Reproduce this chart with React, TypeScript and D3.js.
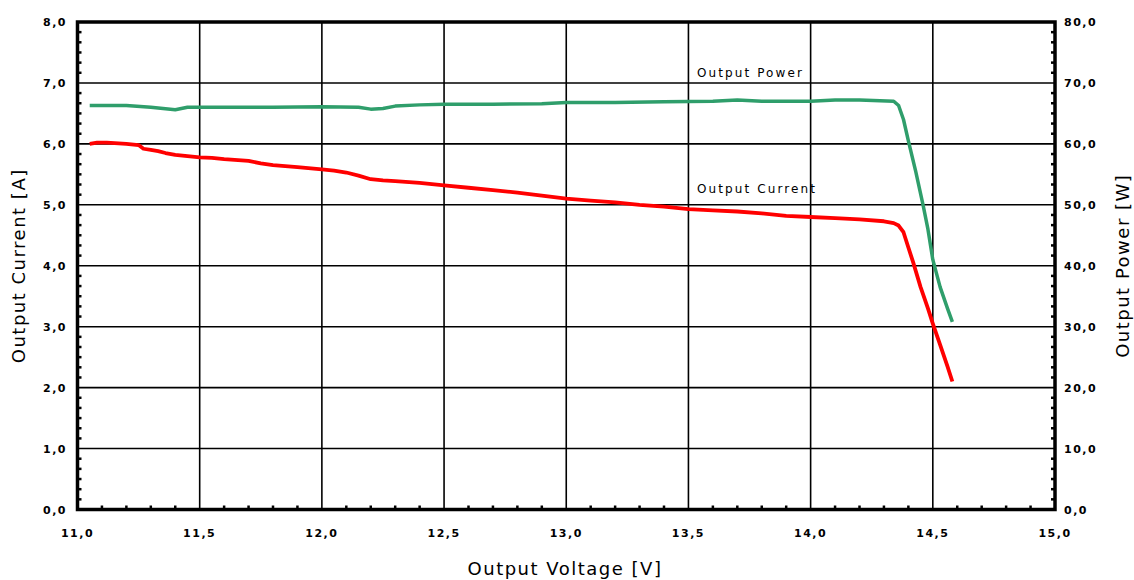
import React from "react";
import * as d3 from "d3";

const voltageI = [11.05, 11.08, 11.12, 11.2, 11.25, 11.27, 11.3, 11.33, 11.36, 11.4, 11.45, 11.5, 11.55, 11.6, 11.7, 11.75, 11.8, 11.9, 12.0, 12.05, 12.1, 12.15, 12.2, 12.25, 12.3, 12.4, 12.5, 12.6, 12.7, 12.8, 12.9, 13.0, 13.1, 13.2, 13.3, 13.4, 13.5, 13.6, 13.7, 13.8, 13.9, 14.0, 14.1, 14.2, 14.3, 14.34, 14.36, 14.38, 14.4, 14.42, 14.45, 14.48, 14.5, 14.53, 14.56, 14.58];
const currentA = [6.0, 6.02, 6.02, 6.0, 5.98, 5.92, 5.9, 5.88, 5.85, 5.82, 5.8, 5.78, 5.77, 5.75, 5.72, 5.68, 5.65, 5.62, 5.58, 5.56, 5.53, 5.48, 5.42, 5.4, 5.39, 5.36, 5.32, 5.28, 5.24, 5.2, 5.15, 5.1, 5.07, 5.04, 5.0, 4.97, 4.93, 4.91, 4.89, 4.86, 4.82, 4.8, 4.78, 4.76, 4.73, 4.7, 4.66, 4.55, 4.3, 4.05, 3.65, 3.3, 3.05, 2.7, 2.35, 2.1];

const voltageP = [11.05, 11.2, 11.3, 11.35, 11.4, 11.45, 11.6, 11.8, 12.0, 12.15, 12.2, 12.25, 12.3, 12.4, 12.5, 12.7, 12.9, 13.0, 13.2, 13.4, 13.6, 13.7, 13.8, 14.0, 14.1, 14.2, 14.34, 14.36, 14.38, 14.4, 14.43, 14.46, 14.48, 14.5, 14.53, 14.56, 14.58];
const powerW = [66.3, 66.3, 66.0, 65.8, 65.6, 66.0, 66.0, 66.0, 66.1, 66.0, 65.7, 65.8, 66.2, 66.4, 66.5, 66.5, 66.6, 66.8, 66.8, 66.9, 67.0, 67.2, 67.0, 67.0, 67.2, 67.2, 67.0, 66.3, 64.0, 60.5, 55.5, 50.0, 46.0, 41.0, 36.5, 33.0, 30.8];

const xTicks = [11, 11.5, 12, 12.5, 13, 13.5, 14, 14.5, 15];
const xTickLabels = ["11,0", "11,5", "12,0", "12,5", "13,0", "13,5", "14,0", "14,5", "15,0"];
const yLeftTicks = [0, 1, 2, 3, 4, 5, 6, 7, 8];
const yLeftLabels = ["0,0", "1,0", "2,0", "3,0", "4,0", "5,0", "6,0", "7,0", "8,0"];
const yRightTicks = [0, 10, 20, 30, 40, 50, 60, 70, 80];
const yRightLabels = ["0,0", "10,0", "20,0", "30,0", "40,0", "50,0", "60,0", "70,0", "80,0"];

export default function App() {
  const W = 1134, H = 580;
  const L = 77.5, R = 1055, T = 22, B = 509.5;
  const x = d3.scaleLinear().domain([11, 15]).range([L, R]);
  const yI = d3.scaleLinear().domain([0, 8]).range([B, T]);
  const yP = d3.scaleLinear().domain([0, 80]).range([B, T]);

  const lineI = d3.line<number>().x((_, i) => x(voltageI[i])).y((d) => yI(d));
  const lineP = d3.line<number>().x((_, i) => x(voltageP[i])).y((d) => yP(d));

  const minorX = d3.range(11, 15.0001, 0.1).filter((v) => Math.abs(v * 2 - Math.round(v * 2)) > 0.01);
  const minorY = d3.range(0, 8.0001, 1 / 6).filter((v) => Math.abs(v - Math.round(v)) > 0.01);

  const tickFont = { fontFamily: "DejaVu Sans", fontSize: 11, fontWeight: 700, letterSpacing: 1.5, fill: "#000" } as const;
  const titleFont = { fontFamily: "DejaVu Sans", fontSize: 18, letterSpacing: 1.5, fill: "#000" } as const;
  const annFont = { fontFamily: "DejaVu Sans", fontSize: 12, letterSpacing: 2.1, fill: "#000" } as const;

  return (
    <svg width={W} height={H} style={{ position: "absolute", left: 0, top: 0, background: "#fff" }}>
      {/* grid */}
      {xTicks.slice(1, -1).map((t) => (
        <line key={"gx" + t} x1={x(t)} x2={x(t)} y1={T} y2={B} stroke="#000" strokeWidth={1.6} />
      ))}
      {yLeftTicks.slice(1, -1).map((t) => (
        <line key={"gy" + t} x1={L} x2={R} y1={yI(t)} y2={yI(t)} stroke="#000" strokeWidth={1.6} />
      ))}
      {/* minor ticks */}
      {minorX.map((v) => (
        <g key={"mx" + v}>
          <line x1={x(v)} x2={x(v)} y1={B} y2={B - 4} stroke="#000" strokeWidth={2.5} />
        </g>
      ))}
      {minorY.map((v) => (
        <g key={"my" + v}>
          <line x1={L} x2={L + 4} y1={yI(v)} y2={yI(v)} stroke="#000" strokeWidth={2.5} />
          <line x1={R} x2={R - 4} y1={yI(v)} y2={yI(v)} stroke="#000" strokeWidth={2.5} />
        </g>
      ))}
      {/* series */}
      <path d={lineP(powerW) || ""} fill="none" stroke="#2f9e6b" strokeWidth={3.5} strokeLinejoin="round" />
      <path d={lineI(currentA) || ""} fill="none" stroke="#ff0000" strokeWidth={3.8} strokeLinejoin="round" />
      {/* frame */}
      <rect x={L} y={T} width={R - L} height={B - T} fill="none" stroke="#000" strokeWidth={3.5} />
      {/* tick labels */}
      {xTicks.map((t, i) => (
        <text key={"xl" + t} x={x(t)} y={537} textAnchor="middle" style={tickFont}>{xTickLabels[i]}</text>
      ))}
      {yLeftTicks.map((t, i) => (
        <text key={"yl" + t} x={67} y={yI(t) + 4} textAnchor="end" style={tickFont}>{yLeftLabels[i]}</text>
      ))}
      {yRightTicks.map((t, i) => (
        <text key={"yr" + t} x={1064} y={yP(t) + 4} textAnchor="start" style={tickFont}>{yRightLabels[i]}</text>
      ))}
      {/* titles */}
      <text x={565} y={575} textAnchor="middle" style={titleFont}>Output Voltage [V]</text>
      <text transform={`translate(25,${(T + B) / 2}) rotate(-90)`} textAnchor="middle" style={titleFont}>Output Current [A]</text>
      <text transform={`translate(1129,${(T + B) / 2}) rotate(-90)`} textAnchor="middle" style={titleFont}>Output Power [W]</text>
      {/* annotations */}
      <text x={697} y={77} style={annFont}>Output Power</text>
      <text x={697} y={193} style={annFont}>Output Current</text>
    </svg>
  );
}
